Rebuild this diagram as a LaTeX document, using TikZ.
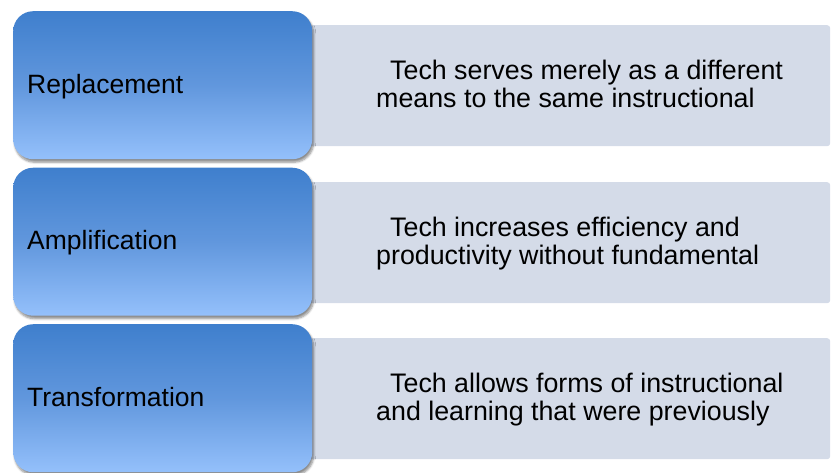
\documentclass[tikz,border=0pt]{standalone}
\usepackage{fontspec}
\setmainfont{Liberation Sans}
\usetikzlibrary{shadows.blur}
\definecolor{bluetop}{HTML}{3F7FCD}
\definecolor{bluemid}{HTML}{6197DD}
\definecolor{bluebot}{HTML}{94C0FB}
\definecolor{panel}{HTML}{D4DBE8}
\begin{document}
\begin{tikzpicture}[x=1pt,y=-1pt,
  labelbox/.style={rounded corners=20pt, top color=bluetop, bottom color=bluebot, middle color=bluemid, draw=none,
    minimum width=299pt, minimum height=148pt, anchor=north west, inner sep=0pt,
    blur shadow={shadow xshift=1.5pt, shadow yshift=-3pt, shadow blur steps=6, shadow opacity=45}},
  panelbox/.style={fill=panel, draw=none, rounded corners=3pt, minimum width=530pt,
    minimum height=121pt, anchor=north west, inner sep=0pt},
  labeltext/.style={font=\fontsize{26.5}{30}\selectfont, anchor=base west, inner sep=0pt},
  desctext/.style={font=\fontsize{26.8}{28}\selectfont, align=left, anchor=base west, inner sep=0pt}]
\useasboundingbox (0,0) rectangle (832,472);
% right panels
\node[panelbox] (p1) at (300,25) {};
\node[panelbox] (p2) at (300,182) {};
\node[panelbox] (p3) at (300,338) {};
% left boxes
\node[labelbox] (b1) at (13,11) {};
\node[labelbox] (b2) at (13,167.5) {};
\node[labelbox] (b3) at (13,324) {};
% labels
\node[labeltext] (l1) at (27,93) {Replacement};
\node[labeltext] (l2) at (27,249.5) {Amplification};
\node[labeltext] (l3) at (27,406) {Transformation};
% descriptions (base anchor = last line)
\node[desctext] (d1) at (376,107) {\hspace*{14pt}Tech serves merely as a different\\means to the same instructional};
\node[desctext] (d2) at (376,264) {\hspace*{14pt}Tech increases efficiency and\\productivity without fundamental};
\node[desctext] (d3) at (376,420) {\hspace*{14pt}Tech allows forms of instructional\\and learning that were previously};
\end{tikzpicture}
\end{document}
